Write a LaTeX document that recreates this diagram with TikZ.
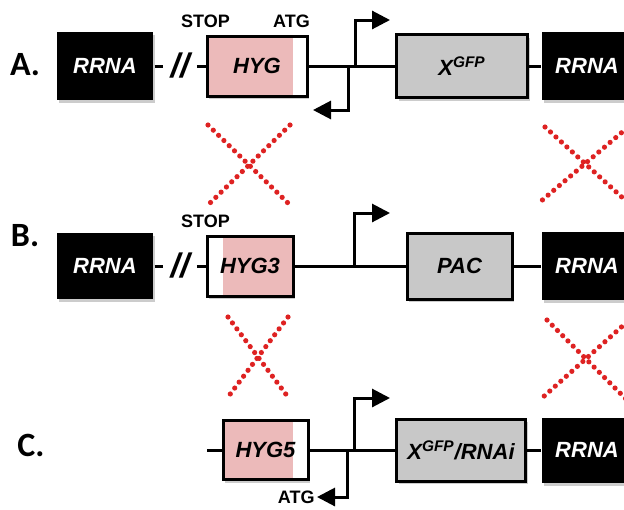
\documentclass[tikz,border=0pt]{standalone}
\usepackage{fontspec}
\setmainfont{Liberation Sans}
\newfontfamily\rowfont{Carlito}
\usetikzlibrary{arrows.meta,positioning,shadows}

\definecolor{hygpink}{RGB}{236,186,186}
\definecolor{boxgray}{RGB}{200,200,200}
\definecolor{xred}{RGB}{222,34,34}

\tikzset{
  gene/.style={line width=1.5pt, inner sep=0pt, font=\fontsize{11}{13}\selectfont\bfseries\itshape,
               drop shadow={shadow xshift=1.2pt, shadow yshift=-1.6pt, opacity=0.4}},
  rrna/.style={gene, fill=black, text=white, minimum width=48pt, minimum height=34pt},
  cds/.style={gene, draw, fill=boxgray, minimum height=31.5pt},
  hyg/.style={gene, draw, fill=white, minimum height=30pt},
  whiteend/.style={path picture={\fill[hygpink] (path picture bounding box.north west)
                   rectangle ([xshift=-#1]path picture bounding box.south east);}},
  whitestart/.style={path picture={\fill[hygpink] ([xshift=#1]path picture bounding box.north west)
                   rectangle (path picture bounding box.south east);}},
  wire/.style={line width=1.5pt},
  prom/.style={line width=1.5pt, -{Triangle[length=9pt,width=9pt]}},
  tag/.style={font=\fontsize{9}{10}\selectfont\bfseries, inner sep=0pt},
  row/.style={font=\rowfont\fontsize{17}{19}\selectfont\bfseries},
  brk/.style={font=\fontsize{17}{19}\selectfont\bfseries\itshape, inner sep=3.5pt},
  cross/.style={xred, line width=2.6pt, line cap=round, dash pattern=on 0pt off 3.7pt}
}

\begin{document}
\begin{tikzpicture}[x=0.5pt,y=-0.5pt]
                    \useasboundingbox (0,0) rectangle (624,509);
                    % row A
                    \node[row] (labA) at (25,65) {A.};
                    \node[rrna] (rrA) at (105,66) {RRNA};
                    \node[brk] (brA) at (180,66) {//};
                    \node[hyg,whiteend=7pt,minimum width=50pt] (hygA) at (257,66) {HYG};
                    \node[tag,above=3pt of hygA.north west] (stopA) {STOP};
                    \node[tag,above=3pt of hygA.north east,xshift=-8.5pt] (atgA) {ATG};
                    \node[cds,minimum width=65.5pt] (xA) at (462,66) {X\textsuperscript{GFP}};
                    \node[rrna,minimum width=45pt] (rrA2) at (587,66) {RRNA};
                    \coordinate (fA) at (355,66);
                    \coordinate (fAt) at (390,20);
                    \coordinate (rA) at (348,66);
                    \coordinate (rAt) at (313,110);
                    \draw[wire] (rrA) -- (brA) -- (hygA) -- (xA) -- (rrA2);
                    \draw[prom] (fA) |- (fAt);
                    \draw[prom] (rA) |- (rAt);
                    % row B
                    \node[row] (labB) at (25,236) {B.};
                    \node[rrna,minimum height=33pt] (rrB) at (105,266) {RRNA};
                    \node[brk] (brB) at (180,266) {//};
                    \node[hyg,whitestart=8pt,minimum width=43pt] (hygB) at (250,266) {HYG3};
                    \node[tag,above=3pt of hygB.north west] (stopB) {STOP};
                    \node[cds,minimum width=52.5pt,minimum height=33pt] (pacB) at (459.5,266) {PAC};
                    \node[rrna,minimum width=45pt] (rrB2) at (587,266) {RRNA};
                    \coordinate (fB) at (354,266);
                    \coordinate (fBt) at (390,213);
                    \draw[wire] (rrB) -- (brB) -- (hygB) -- (pacB) -- (rrB2);
                    \draw[prom] (fB) |- (fBt);
                    % row C
                    \node[row] (labC) at (31,445) {C.};
                    \coordinate (cL) at (207,450);
                    \node[hyg,whiteend=7.5pt,minimum width=42.5pt,minimum height=29.5pt] (hygC) at (265.5,450) {HYG5};
                    \node[cds,minimum width=64.5pt,minimum height=31pt] (xC) at (461,450) {X\textsuperscript{GFP}/RNAi};
                    \node[rrna,minimum width=45pt,minimum height=32.5pt] (rrC2) at (587,450) {RRNA};
                    \coordinate (fC) at (354,450);
                    \coordinate (fCt) at (390,398);
                    \coordinate (rC) at (347,450);
                    \coordinate (rCt) at (317,497);
                    \node[tag,left=1pt of rCt] (atgC) {ATG};
                    \draw[wire] (cL) -- (hygC) -- (xC) -- (rrC2);
                    \draw[prom] (fC) |- (fCt);
                    \draw[prom] (rC) |- (rCt);
                    % crossing-over marks
                    \draw[cross] (208,125) -- (290,205) (290,125) -- (210,203);
                    \draw[cross] (545,127) -- (625,200) (627,128) -- (540,202);
                    \draw[cross] (228,317) -- (288,397) (288,317) -- (228,397);
                    \draw[cross] (547,320) -- (627,400) (627,322) -- (542,398);
                \end{tikzpicture}
\end{document}
